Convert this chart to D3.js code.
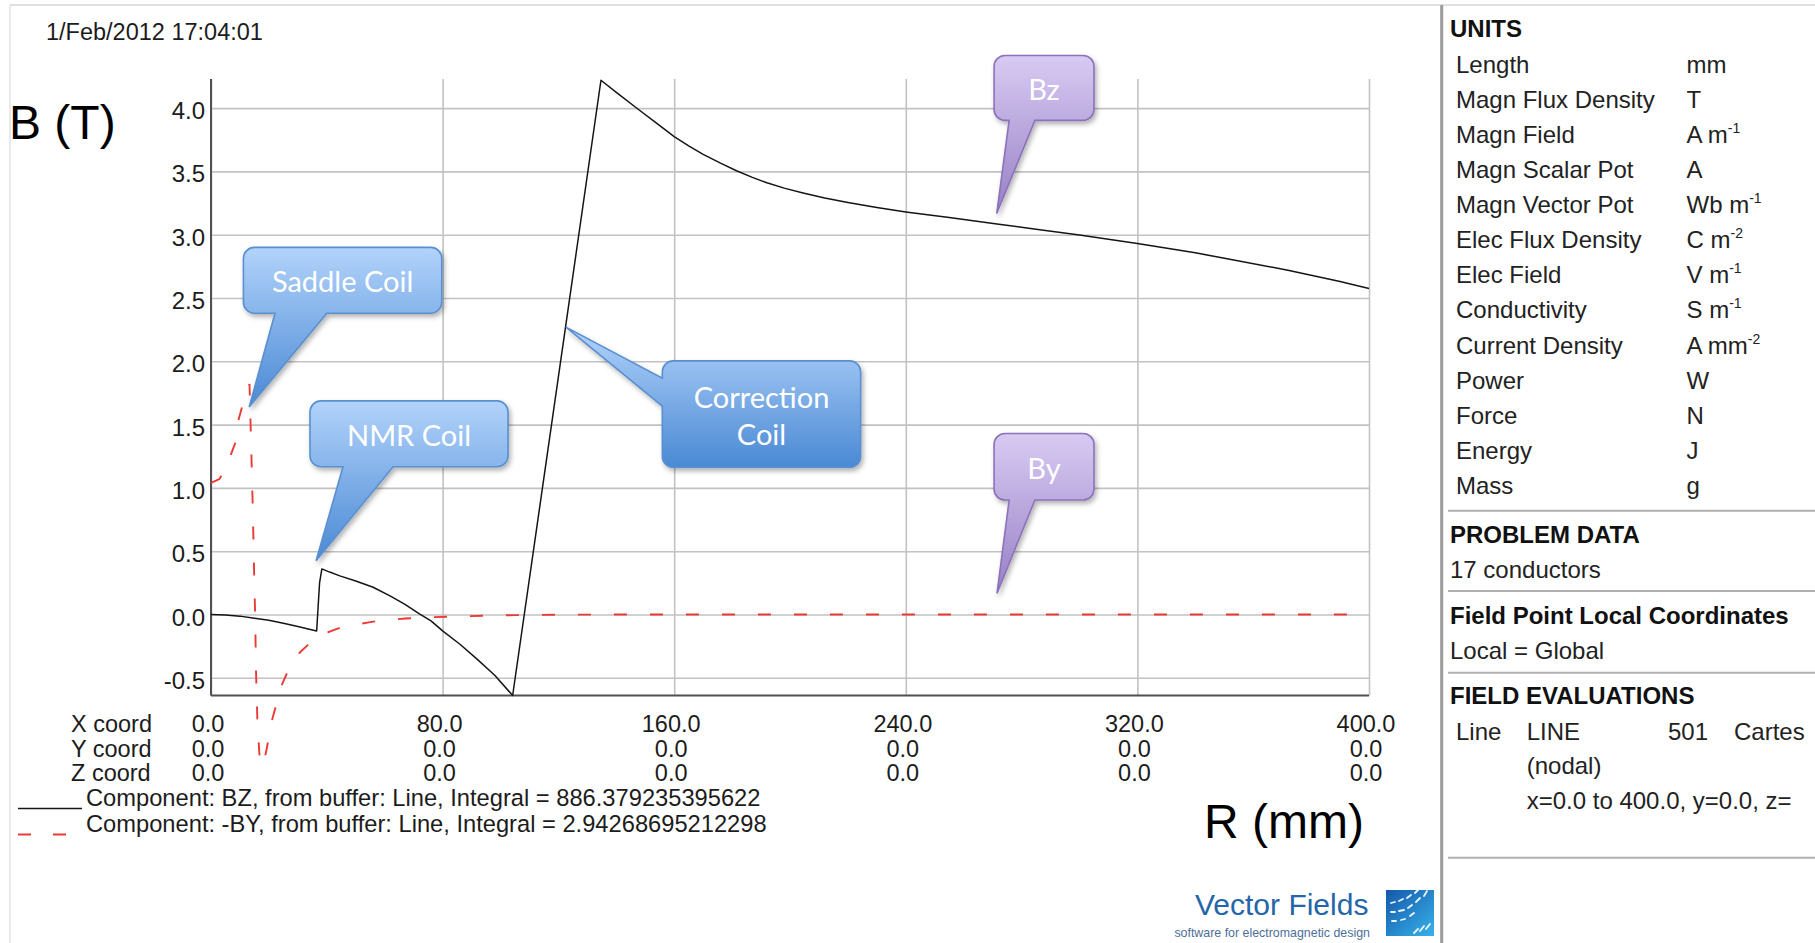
<!DOCTYPE html>
<html><head><meta charset="utf-8">
<script src="https://cdn.jsdelivr.net/npm/d3@7"></script>
<style>
body{margin:0;background:#fff;}
svg{display:block;}
.t{font-family:"Liberation Sans",Arial,sans-serif;}
.co{font-family:Lato,"Open Sans",sans-serif;}
</style>
</head><body>
<svg id="c" width="1815" height="943" fill="#1c1c1c"></svg>
<script>
// ---------- data ----------
const xDomain = [0, 400];
const yDomain = [-0.64, 4.23];
const xTicks = [0, 80, 160, 240, 320, 400];
const yTicks = [-0.5, 0, 0.5, 1.0, 1.5, 2.0, 2.5, 3.0, 3.5, 4.0];
const yCoordVals = [0, 0, 0, 0, 0, 0];
const zCoordVals = [0, 0, 0, 0, 0, 0];

// Bz component (R in mm, B in T)
const bzR   = [0, 5, 10, 15, 20, 25, 30, 36.5, 37.5, 38.3, 41, 44.5, 50, 56, 62, 67, 72, 76, 80, 86, 92, 98, 104.2,
               134.7, 140, 147.9, 154, 160, 165, 170, 176, 181.5, 187, 192, 198, 204.5, 212, 220, 230, 240, 255, 271.5, 285, 300, 320, 340, 351, 372, 390, 400];
const bzVal = [0, -0.005, -0.013, -0.03, -0.045, -0.07, -0.095, -0.13, 0.25, 0.36, 0.335, 0.305, 0.265, 0.215, 0.145, 0.08, 0.005, -0.05, -0.13, -0.235, -0.355, -0.48, -0.64,
               4.22, 4.125, 3.985, 3.88, 3.775, 3.702, 3.635, 3.565, 3.505, 3.453, 3.41, 3.368, 3.33, 3.29, 3.255, 3.215, 3.18, 3.135, 3.085, 3.043, 2.998, 2.93, 2.857, 2.81, 2.72, 2.63, 2.575];

// -BY component
const byR   = [0, 2.9, 5, 6.5, 8.3, 9.4, 10.6, 12.3, 13.3, 13.8, 14.4, 14.9, 15.25, 15.55, 16.0, 16.7, 17.4, 18.9, 20.0, 21.0, 22.7, 24.4, 26.3, 28.5,
               30.7, 34.2, 37, 40.5, 44.6, 50, 55, 60, 67, 75, 85, 95, 105, 120, 140, 200, 300, 400];
const byVal = [1.04, 1.07, 1.15, 1.24, 1.35, 1.53, 1.63, 1.77, 1.82, 1.4, 0.87, 0.32, 0.0, -0.45, -0.82, -1.1, -1.2, -1.1, -0.97, -0.84, -0.70, -0.56, -0.46, -0.37,
               -0.30, -0.225, -0.18, -0.14, -0.105, -0.08, -0.06, -0.045, -0.032, -0.022, -0.015, -0.01, -0.005, -0.002, 0, 0, 0, 0];

const legendTexts = ["Component: BZ, from buffer: Line, Integral = 886.379235395622",
                     "Component: -BY, from buffer: Line, Integral = 2.94268695212298"];
const rowLabels = ["X coord", "Y coord", "Z coord"];

const unitNames = ["Length","Magn Flux Density","Magn Field","Magn Scalar Pot","Magn Vector Pot","Elec Flux Density",
                   "Elec Field","Conductivity","Current Density","Power","Force","Energy","Mass"];
const unitBase  = ["mm","T","A m","A","Wb m","C m","V m","S m","A mm","W","N","J","g"];
const unitExp   = ["","","-1","","-1","-2","-1","-1","-2","","","",""];

// callouts in data coordinates: box [r0,r1,b0,b1], pointer base, tip
const callouts = [
  {lines:["Saddle Coil"], kind:"blue", box:[11.2,79.7,2.90,2.38], side:"bottom", base:[22.1,40.0], tip:[13.2,1.64]},
  {lines:["NMR Coil"], kind:"blue", box:[34.2,102.6,1.687,1.167], side:"bottom", base:[45.6,62.9], tip:[36.3,0.425]},
  {lines:["Correction","Coil"], kind:"blue", box:[155.9,224.4,2.003,1.162], side:"left", base:[1.867,1.646], tip:[122.6,2.27]},
  {lines:["Bz"], kind:"purple", box:[270.5,305.0,4.416,3.903], side:"bottom", base:[275.7,284.6], tip:[271.4,3.167]},
  {lines:["By"], kind:"purple", box:[270.5,305.0,1.430,0.904], side:"bottom", base:[275.7,284.6], tip:[271.5,0.167]}
];

// ---------- drawing ----------
const svg = d3.select("#c");
const x = d3.scaleLinear().domain(xDomain).range([211, 1369]);
const y = d3.scaleLinear().domain(yDomain).range([695.5, 79]);
const [xL, xR] = x.range();
const [yB, yT] = y.range();

const defs = svg.append("defs");
function vgrad(id, c0, c1){
  const g = defs.append("linearGradient").attr("id", id).attr("x1",0).attr("y1",0).attr("x2",0).attr("y2",1);
  g.append("stop").attr("offset","0%").attr("stop-color",c0);
  g.append("stop").attr("offset","100%").attr("stop-color",c1);
}
vgrad("gBlue", "#b2d3fb", "#4a89d4");
vgrad("gPurple", "#d8caf3", "#9780c4");
const lg = defs.append("linearGradient").attr("id","gLogo").attr("x1",0).attr("y1",0).attr("x2",1).attr("y2",1);
lg.append("stop").attr("offset","0%").attr("stop-color","#1458ab");
lg.append("stop").attr("offset","100%").attr("stop-color","#38b2e8");
const f = defs.append("filter").attr("id","sh").attr("x","-20%").attr("y","-20%").attr("width","150%").attr("height","150%");
f.append("feDropShadow").attr("dx",2).attr("dy",3).attr("stdDeviation",2.5).attr("flood-color","#000").attr("flood-opacity",0.3);

// frame lines
svg.append("line").attr("x1",10).attr("x2",10).attr("y1",5).attr("y2",943).attr("stroke","#dcdcdc").attr("stroke-width",1.2);
svg.append("line").attr("x1",10).attr("x2",1815).attr("y1",5).attr("y2",5).attr("stroke","#d6d6d6").attr("stroke-width",1.5);

// date
svg.append("text").attr("class","t").attr("x",46).attr("y",40).attr("font-size",23.5).text("1/Feb/2012 17:04:01");

// grid - vertical
const gx = svg.append("g").attr("transform",`translate(0,${yB})`)
  .call(d3.axisBottom(x).tickValues(xTicks).tickSize(-(yB - yT)).tickFormat(""));
gx.select(".domain").remove();
gx.selectAll("line").attr("stroke","#c2c2c2").attr("stroke-width",1.6);

// grid - horizontal + labels
const gy = svg.append("g").attr("transform",`translate(${xL},0)`)
  .call(d3.axisLeft(y).tickValues(yTicks).tickSize(-(xR - xL)).tickPadding(6).tickFormat(d => d.toFixed(1)));
gy.select(".domain").remove();
gy.attr("font-family", null).attr("font-size", null);
gy.selectAll("line").attr("stroke","#c2c2c2").attr("stroke-width",1.6);
gy.selectAll("text").attr("class","t").attr("font-size",24).attr("fill","#1c1c1c").attr("dy","0.44em");

// axes lines
svg.append("line").attr("x1",xL).attr("x2",xL).attr("y1",yT).attr("y2",yB).attr("stroke","#505050").attr("stroke-width",2);
svg.append("line").attr("x1",xL).attr("x2",xR).attr("y1",yB).attr("y2",yB).attr("stroke","#505050").attr("stroke-width",2);

// curves
const line = d3.line().x(d => x(d[0])).y(d => y(d[1]));
svg.append("path").datum(byR.map((r,i)=>[r, byVal[i]]))
  .attr("d", line).attr("fill","none").attr("stroke","#ea3a35").attr("stroke-width",1.9)
  .attr("stroke-dasharray","13,23");
svg.append("path").datum(bzR.map((r,i)=>[r, bzVal[i]]))
  .attr("d", line).attr("fill","none").attr("stroke","#151515").attr("stroke-width",1.5)
  .attr("stroke-linejoin","round");

// coordinate rows
const rowY = [731.7, 756.7, 781];
const rowVals = [xTicks, yCoordVals, zCoordVals];
rowLabels.forEach((lab, i) => {
  svg.append("text").attr("class","t").attr("x",71).attr("y",rowY[i]).attr("font-size",23.5).text(lab);
  svg.append("g").selectAll("text").data(xTicks).join("text")
    .attr("class","t").attr("x", d => x(d) - 3).attr("y", rowY[i]).attr("font-size",23.5)
    .attr("text-anchor","middle").text((d,j) => rowVals[i][j].toFixed(1));
});

// legend
svg.append("line").attr("x1",18).attr("x2",82).attr("y1",808.5).attr("y2",808.5).attr("stroke","#151515").attr("stroke-width",1.5);
svg.append("line").attr("x1",18).attr("x2",70).attr("y1",834.5).attr("y2",834.5).attr("stroke","#ea3a35").attr("stroke-width",1.9).attr("stroke-dasharray","13,22");
legendTexts.forEach((t,i) => {
  svg.append("text").attr("class","t").attr("x",86).attr("y",806 + i*25.5).attr("font-size",23.7).text(t);
});

// axis titles
svg.append("text").attr("class","t").attr("x",9).attr("y",138.5).attr("font-size",48).attr("fill","#000").text("B (T)");
svg.append("text").attr("class","t").attr("x",1204).attr("y",837.5).attr("font-size",48).attr("fill","#000").text("R (mm)");

// callouts
function calloutPath(c){
  const x0 = x(c.box[0]), x1 = x(c.box[1]), y0 = y(c.box[2]), y1 = y(c.box[3]);
  const r = 11;
  const tx = x(c.tip[0]), ty = y(c.tip[1]);
  let p = `M${x0+r},${y0}H${x1-r}A${r},${r} 0 0 1 ${x1},${y0+r}V${y1-r}A${r},${r} 0 0 1 ${x1-r},${y1}`;
  if (c.side === "bottom") {
    const ba = x(c.base[0]), bb = x(c.base[1]);
    p += `H${bb}L${tx},${ty}L${ba},${y1}`;
  }
  p += `H${x0+r}A${r},${r} 0 0 1 ${x0},${y1-r}`;
  if (c.side === "left") {
    const ba = y(c.base[0]), bb = y(c.base[1]);
    p += `V${bb}L${tx},${ty}L${x0},${ba}`;
  }
  p += `V${y0+r}A${r},${r} 0 0 1 ${x0+r},${y0}Z`;
  return p;
}
callouts.forEach(c => {
  const blue = c.kind === "blue";
  svg.append("path").attr("d", calloutPath(c))
    .attr("fill", blue ? "url(#gBlue)" : "url(#gPurple)")
    .attr("stroke", blue ? "#5a8fd0" : "#8c72bb").attr("stroke-width",1.6)
    .attr("filter","url(#sh)");
  const cx = (x(c.box[0]) + x(c.box[1]))/2;
  const cy = (y(c.box[2]) + y(c.box[3]))/2;
  const n = c.lines.length;
  c.lines.forEach((t,i) => {
    svg.append("text").attr("class","co").attr("fill","#fff").attr("x",cx).attr("y", cy + 12 + (i - (n-1)/2)*36.7)
      .attr("text-anchor","middle").attr("font-size",29).text(t);
  });
});

// logo
svg.append("text").attr("class","t").attr("x",1195).attr("y",915).attr("font-size",30).attr("fill","#2466a9").text("Vector Fields");
svg.append("text").attr("class","t").attr("x",1370).attr("y",937).attr("font-size",12.4).attr("fill","#4d6f99").attr("text-anchor","end").text("software for electromagnetic design");
svg.append("rect").attr("x",1386).attr("y",890).attr("width",48).attr("height",46).attr("fill","url(#gLogo)");
const lgG = svg.append("g").attr("stroke","#fff").attr("stroke-width",1.8).attr("stroke-linecap","round").attr("opacity",0.92);
[[1391,903,1395,902],[1399,901,1403,899],[1407,898,1411,895],[1415,893,1418,890],
 [1391,912,1395,912],[1399,911,1404,910],[1408,908,1412,905],[1416,902,1420,898],[1424,896,1427,891],
 [1392,921,1396,921],[1401,920,1405,919],[1410,916,1414,913],
 [1414,933,1418,929],[1420,931,1424,926],[1426,929,1430,924]].forEach(s=>{
  lgG.append("line").attr("x1",s[0]).attr("y1",s[1]).attr("x2",s[2]).attr("y2",s[3]);
});

// right panel
svg.append("line").attr("x1",1441.7).attr("x2",1441.7).attr("y1",5).attr("y2",943).attr("stroke","#9a9a9a").attr("stroke-width",3);
const sepY = [510.7, 591, 672.7, 857.7];
svg.append("g").selectAll("line").data(sepY).join("line")
  .attr("x1",1448).attr("x2",1815).attr("y1",d=>d).attr("y2",d=>d).attr("stroke","#b0b0b0").attr("stroke-width",2);

const heads = [["UNITS",36.7],["PROBLEM DATA",542.7],["Field Point Local Coordinates",624],["FIELD EVALUATIONS",704]];
heads.forEach(h => svg.append("text").attr("class","t").attr("x",1450).attr("y",h[1]).attr("font-size",24).attr("font-weight","bold").attr("fill","#111").text(h[0]));

unitNames.forEach((nm,i) => {
  const yy = 72.7 + i*35.1;
  svg.append("text").attr("class","t").attr("x",1456).attr("y",yy).attr("font-size",24).attr("fill","#222").text(nm);
  const t = svg.append("text").attr("class","t").attr("x",1686.5).attr("y",yy).attr("font-size",24).attr("fill","#222");
  t.append("tspan").text(unitBase[i]);
  if (unitExp[i]) t.append("tspan").attr("dy",-10).attr("font-size",14).text(unitExp[i]);
});
svg.append("text").attr("class","t").attr("x",1450).attr("y",578.3).attr("font-size",24).attr("fill","#222").text("17 conductors");
svg.append("text").attr("class","t").attr("x",1450).attr("y",659.3).attr("font-size",24).attr("fill","#222").text("Local = Global");
const fe = [["Line",1456,740],["LINE",1526.7,740],["501",1668,740],["Cartes",1734,740],["(nodal)",1526.7,774],["x=0.0 to 400.0, y=0.0, z=",1526.7,809.3]];
fe.forEach(e => svg.append("text").attr("class","t").attr("x",e[1]).attr("y",e[2]).attr("font-size",24).attr("fill","#222").text(e[0]));
</script>
</body></html>
